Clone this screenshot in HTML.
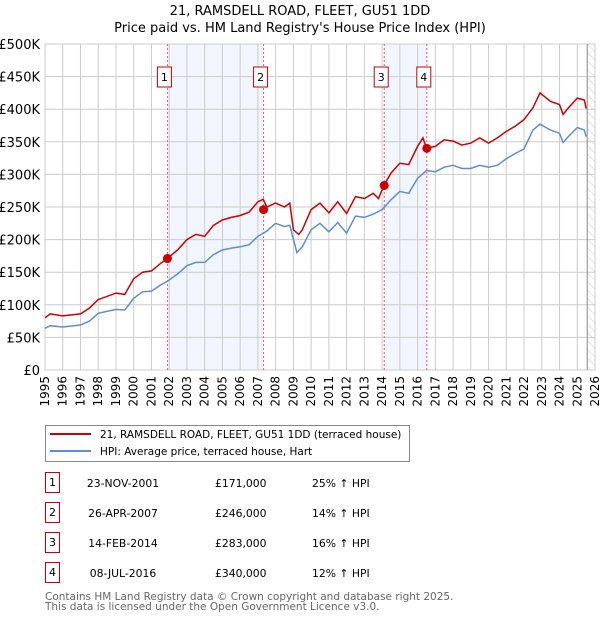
<!DOCTYPE html>
<html><head><meta charset="utf-8"><style>
body{margin:0;background:#fff;font-family:"DejaVu Sans","Liberation Sans",sans-serif;}
#wrap{position:relative;width:600px;height:620px;overflow:hidden;}
</style></head><body>
<div id="wrap">
<svg id="chart" width="600" height="620" style="position:absolute;left:0;top:0"></svg>
</div>
<script>
const years=[1995,1995.3,1996,1997,1997.5,1998,1999,1999.5,2000,2000.5,2001,2001.5,2001.9,2002.5,2003,2003.5,2004,2004.5,2005,2005.5,2006,2006.5,2007,2007.5,2008,2008.5,2008.8,2009.2,2009.5,2010,2010.5,2011,2011.5,2012,2012.5,2013,2013.5,2014,2014.5,2015,2015.5,2016,2016.5,2017,2017.5,2018,2018.5,2019,2019.5,2020,2020.5,2021,2021.5,2022,2022.5,2022.9,2023.5,2024,2024.2,2024.5,2025,2025.4,2025.5];
const hpiValues=[64,68,66,69,75,87,93,92,110,120,121,130,136,148,160,165,165,177,184,187,189,192,205,213,225,220,222,180,189,215,225,212,226,210,236,234,239,246,261,274,271,294,306,304,311,314,309,309,314,311,314,324,332,339,368,377,368,363,349,358,372,368,358];
const redYears=[1995,1995.3,1996,1997,1997.5,1998,1999,1999.5,2000,2000.5,2001,2001.5,2001.9,2002.5,2003,2003.5,2004,2004.5,2005,2005.5,2006,2006.5,2007,2007.3,2007.5,2008,2008.5,2008.8,2009,2009.3,2009.5,2010,2010.5,2011,2011.5,2012,2012.5,2013,2013.5,2013.8,2014.1,2014.5,2015,2015.5,2016,2016.3,2016.5,2017,2017.5,2018,2018.5,2019,2019.5,2020,2020.5,2021,2021.5,2022,2022.5,2022.9,2023.5,2024,2024.2,2024.5,2025,2025.4,2025.5];
const redValues=[80,86,83,86,95,108,118,116,140,150,152,163,171,185,200,208,205,222,230,234,237,242,258,262,250,256,250,256,215,208,215,246,256,241,258,240,266,263,271,263,283,302,317,315,343,356,340,343,353,351,345,348,356,348,356,366,374,384,402,425,412,407,392,402,417,414,401];
const saleYears=[2001.9,2007.32,2014.12,2016.52];
const salePrices=[171,246,283,340];
const saleLabels=["1","2","3","4"];
const yTicks=[0,50,100,150,200,250,300,350,400,450,500];
const yTickLabels=["£0","£50K","£100K","£150K","£200K","£250K","£300K","£350K","£400K","£450K","£500K"];
const xTicks=[];for(let y=1995;y<=2026;y++)xTicks.push(y);

const L=45,R=595,T=44,B=370,X0=1995,X1=2026;
const xs=v=>L+(v-X0)/(X1-X0)*(R-L);
const ys=v=>B-v/500*(B-T);
const svg=document.getElementById('chart');
const NS='http://www.w3.org/2000/svg';
const FF='DejaVu Sans, sans-serif';
function mk(tag,attrs,parent){const e=document.createElementNS(NS,tag);for(const k in attrs)e.setAttribute(k,attrs[k]);(parent||svg).appendChild(e);return e;}
function txt(s,attrs){const e=mk('text',attrs);e.textContent=s;return e;}

let e=txt('21, RAMSDELL ROAD, FLEET, GU51 1DD',{x:300,y:15,'text-anchor':'middle','font-size':13,'font-family':FF});

e=txt("Price paid vs. HM Land Registry's House Price Index (HPI)",{x:300,y:32,'text-anchor':'middle','font-size':13,'font-family':FF});


for(let i=0;i<4;i+=2){
 e=mk('rect',{x:xs(saleYears[i]),y:T,width:xs(saleYears[i+1])-xs(saleYears[i]),height:B-T,fill:'#eef3fc',opacity:0.8});
 
}
const defs=mk('defs',{});
const pat=mk('pattern',{id:'h',width:6,height:6,patternUnits:'userSpaceOnUse',patternTransform:'rotate(-45)'},defs);
mk('line',{x1:0,y1:0,x2:0,y2:6,stroke:'#ccc','stroke-width':1},pat);
e=mk('rect',{x:xs(2025.56),y:T,width:R-xs(2025.56),height:B-T,fill:'url(#h)'});


xTicks.forEach(v=>{
 e=mk('line',{x1:xs(v),x2:xs(v),y1:T,y2:B,stroke:'#cccccc','stroke-width':1});
 
 e=txt(String(v),{transform:`translate(${xs(v)+4},${B+6}) rotate(-90)`,'text-anchor':'end','font-size':12,'font-family':FF});
 
});
yTicks.forEach((v,i)=>{
 e=mk('line',{x1:L,x2:R,y1:ys(v),y2:ys(v),stroke:'#cccccc','stroke-width':1});
 
 e=txt(yTickLabels[i],{x:40,y:ys(v)+5,'text-anchor':'end','font-size':13,'font-family':FF});
 
});
e=mk('line',{x1:xs(2025.56),x2:xs(2025.56),y1:T,y2:B,stroke:'#888','stroke-width':1});


saleYears.forEach((v,i)=>{
 e=mk('line',{x1:xs(v),x2:xs(v),y1:T,y2:B,stroke:'#f06060','stroke-width':1,'stroke-dasharray':'2,2'});
 
 e=mk('rect',{x:xs(v)-10,y:T+23,width:14,height:20,fill:'#fff',stroke:'#cc0000','stroke-width':1});
 
 e=txt(saleLabels[i],{x:xs(v)-3,y:T+37,'text-anchor':'middle','font-size':11,'font-family':FF});
 
});

function path(xa,va){return xa.map((x,i)=>(i?'L':'M')+xs(x).toFixed(1)+','+ys(va[i]).toFixed(1)).join('');}
e=mk('path',{d:path(years,hpiValues),fill:'none',stroke:'#5b8ed6','stroke-width':1.5});

e=mk('path',{d:path(redYears,redValues),fill:'none',stroke:'#cc0000','stroke-width':1.5});

saleYears.forEach((v,i)=>{
 e=mk('circle',{cx:xs(v),cy:ys(salePrices[i]),r:4.5,fill:'#cc0000'});
 
});

e=mk('rect',{x:45.5,y:425.5,width:364,height:36,fill:'#fff',stroke:'#888','stroke-width':1});

mk('line',{x1:50,x2:91,y1:434,y2:434,stroke:'#cc0000','stroke-width':2});
e=txt('21, RAMSDELL ROAD, FLEET, GU51 1DD (terraced house)',{x:100,y:438,'font-size':10.5,'font-family':FF});

mk('line',{x1:50,x2:91,y1:451,y2:451,stroke:'#5b8ed6','stroke-width':2});
e=txt('HPI: Average price, terraced house, Hart',{x:100,y:455,'font-size':10.5,'font-family':FF});


const tDates=["23-NOV-2001","26-APR-2007","14-FEB-2014","08-JUL-2016"];
const tPrices=["£171,000","£246,000","£283,000","£340,000"];
const tPct=["25% ↑ HPI","14% ↑ HPI","16% ↑ HPI","12% ↑ HPI"];
for(let i=0;i<4;i++){
 const cy=483+i*30;
 e=mk('rect',{x:45.5,y:cy-10.5,width:14,height:20,fill:'#fff',stroke:'#cc0000','stroke-width':1});
 
 txt(saleLabels[i],{x:52.5,y:cy+3,'text-anchor':'middle','font-size':11,'font-family':FF});
 e=txt(tDates[i],{x:123,y:cy+4,'text-anchor':'middle','font-size':10.8,'font-family':FF});
 
 e=txt(tPrices[i],{x:215,y:cy+4,'font-size':10.8,'font-family':FF});
 
 e=txt(tPct[i],{x:312,y:cy+4,'font-size':10.8,'font-family':FF});
 
}
e=txt('Contains HM Land Registry data © Crown copyright and database right 2025.',{x:45,y:600,'font-size':10.5,fill:'#666','font-family':FF});

e=txt('This data is licensed under the Open Government Licence v3.0.',{x:45,y:610,'font-size':10.5,fill:'#666','font-family':FF});

</script>
</body></html>
